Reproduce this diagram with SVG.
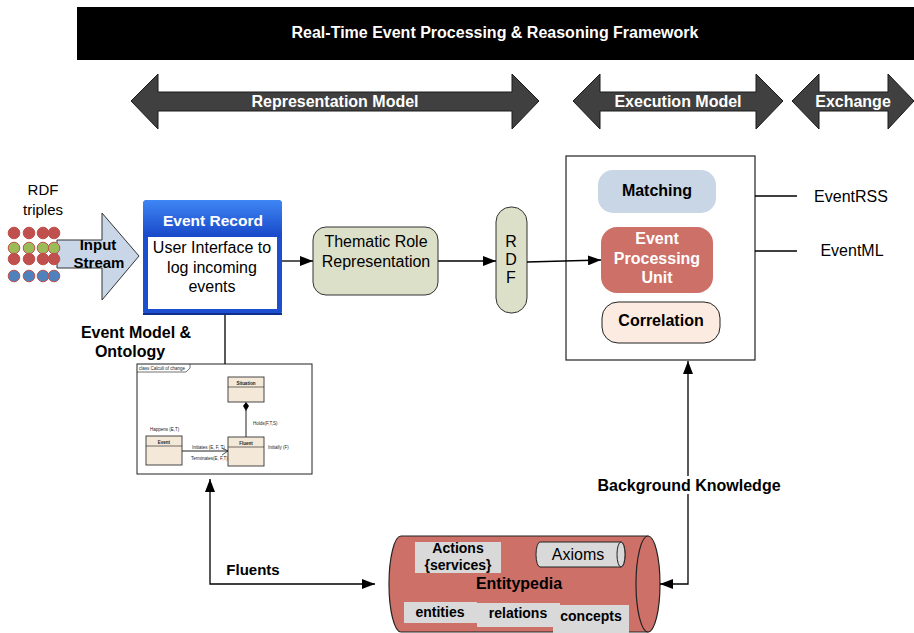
<svg xmlns="http://www.w3.org/2000/svg" width="914" height="633" viewBox="0 0 914 633">
<style>
text{font-family:"Liberation Sans",Arial,sans-serif;}
.b{font-weight:bold;}
.w{fill:#fff;}
.c{text-anchor:middle;}
.band{fill:#404040;stroke:#1a1a1a;stroke-width:1;}
.ln{fill:none;stroke:#000;stroke-width:1.3;}
.tiny{font-size:4.5px;fill:#222;}
.uml{fill:#f4e9d8;stroke:#333;stroke-width:0.9;}
.gb{fill:#d9d9d9;}
</style>
<defs>
<marker id="ah" markerUnits="userSpaceOnUse" markerWidth="13" markerHeight="10" refX="13" refY="5" orient="auto-start-reverse">
<path d="M0,0 L13,5 L0,10 z" fill="#000"/>
</marker>
<linearGradient id="hdr" x1="0" y1="0" x2="0" y2="1">
<stop offset="0" stop-color="#3f86f5"/>
<stop offset="1" stop-color="#1848c8"/>
</linearGradient>
</defs>

<g id="banner">
<rect x="77" y="7" width="840" height="53" fill="#000"/>
<text x="495" y="38" class="b w c" font-size="16">Real-Time Event Processing &amp; Reasoning Framework</text>
</g>

<g id="representation-model">
<polygon class="band" points="131,101 158,74 158,92 512,92 512,74 539,101 512,129 512,111 158,111 158,129"/>
<text x="335" y="107" class="b w c" font-size="16">Representation Model</text>
</g>
<g id="execution-model">
<polygon class="band" points="573,101 600,74 600,92 756,92 756,74 783,101 756,129 756,111 600,111 600,129"/>
<text x="678" y="107" class="b w c" font-size="16">Execution Model</text>
</g>
<g id="exchange">
<polygon class="band" points="792,101 819,74 819,92 888,92 888,74 914,101 888,129 888,111 819,111 819,129"/>
<text x="853" y="107" class="b w c" font-size="16">Exchange</text>
</g>

<g id="rdf-triples">
<text x="43" y="195" class="c" font-size="15">RDF</text>
<text x="43" y="215" class="c" font-size="15">triples</text>
</g>

<g id="input-stream">
<polygon points="57,240 102,240 102,213 139,256 102,300 102,268 57,268" fill="#c8d6e8" stroke="#333" stroke-width="1"/>
<g stroke="#c0504d" stroke-width="1">
<circle cx="14" cy="233" r="5.8" fill="#c0504d"/><circle cx="29" cy="233" r="5.8" fill="#c0504d"/><circle cx="43" cy="233" r="5.8" fill="#c0504d"/><circle cx="54" cy="233" r="5.8" fill="#c0504d"/>
<circle cx="14" cy="248" r="5.8" fill="#9bbb59"/><circle cx="29" cy="248" r="5.8" fill="#9bbb59"/><circle cx="43" cy="248" r="5.8" fill="#9bbb59"/><circle cx="54" cy="248" r="5.8" fill="#9bbb59"/>
<circle cx="14" cy="259" r="5.8" fill="#c0504d"/><circle cx="29" cy="259" r="5.8" fill="#c0504d"/><circle cx="43" cy="259" r="5.8" fill="#c0504d"/><circle cx="54" cy="259" r="5.8" fill="#c0504d"/>
<circle cx="14" cy="276" r="5.8" fill="#4f81bd"/><circle cx="29" cy="276" r="5.8" fill="#4f81bd"/><circle cx="43" cy="276" r="5.8" fill="#4f81bd"/><circle cx="54" cy="276" r="5.8" fill="#4f81bd"/>
</g>
<text x="98" y="250" class="b c" font-size="15">Input</text>
<text x="99" y="268" class="b c" font-size="15">Stream</text>
</g>

<g id="event-record">
<rect x="143" y="200" width="139" height="115" rx="4" fill="#1c4fd0"/>
<rect x="143" y="200" width="139" height="37" rx="4" fill="url(#hdr)"/>
<rect x="148" y="237" width="129" height="72" fill="#fff"/>
<line x1="143" y1="314" x2="282" y2="314" stroke="#0d2f8a" stroke-width="2"/>
<text x="213" y="226" class="b w c" font-size="15.5">Event Record</text>
<text x="212" y="253" class="c" font-size="16">User Interface to</text>
<text x="212" y="273" class="c" font-size="16">log incoming</text>
<text x="212" y="292" class="c" font-size="16">events</text>
</g>

<g id="thematic-role">
<rect x="313" y="227" width="125" height="68" rx="13" fill="#dde0c9" stroke="#333" stroke-width="1"/>
<text x="376" y="247" class="c" font-size="16">Thematic Role</text>
<text x="376" y="267" class="c" font-size="16">Representation</text>
</g>

<g id="rdf">
<rect x="496" y="207" width="31" height="106" rx="15" fill="#dde0c9" stroke="#333" stroke-width="1"/>
<text x="511" y="247" class="c" font-size="16">R</text>
<text x="511" y="265" class="c" font-size="16">D</text>
<text x="511" y="283" class="c" font-size="16">F</text>
</g>

<g id="execution-box">
<rect x="566" y="156" width="189" height="204" fill="#fff" stroke="#222" stroke-width="1.2"/>
</g>
<g id="matching">
<rect x="598" y="170" width="118" height="43" rx="15" fill="#c9d6e6"/>
<text x="657" y="196" class="b c" font-size="16">Matching</text>
</g>
<g id="event-processing-unit">
<rect x="601" y="227" width="112" height="66" rx="16" fill="#cd7068"/>
<text x="657" y="244" class="b w c" font-size="16">Event</text>
<text x="657" y="264" class="b w c" font-size="16">Processing</text>
<text x="657" y="283" class="b w c" font-size="16">Unit</text>
</g>
<g id="correlation">
<rect x="602" y="302" width="118" height="41" rx="16" fill="#fcebe0" stroke="#222" stroke-width="1"/>
<text x="661" y="326" class="b c" font-size="16">Correlation</text>
</g>

<g id="eventrss">
<text x="851" y="202" class="c" font-size="16">EventRSS</text>
</g>
<g id="eventml">
<text x="852" y="256" class="c" font-size="16">EventML</text>
</g>

<g id="event-model-ontology">
<text x="136" y="338" class="b c" font-size="16">Event Model &amp;</text>
<text x="130" y="357" class="b c" font-size="16">Ontology</text>
<rect x="137" y="364" width="175" height="110" fill="#fff" stroke="#222" stroke-width="1"/>
<path d="M137,372 H186 L190,368 V364" fill="none" stroke="#333" stroke-width="0.7"/>
<text x="139" y="370" class="tiny" font-size="4px">class Calculi of change</text>
<rect class="uml" x="228" y="377" width="36" height="25"/>
<line x1="228" y1="387" x2="264" y2="387" stroke="#333" stroke-width="0.7"/>
<text x="246" y="385" class="tiny b c">Situation</text>
<rect class="uml" x="228" y="437" width="36" height="29"/>
<line x1="228" y1="447" x2="264" y2="447" stroke="#333" stroke-width="0.7"/>
<text x="246" y="445" class="tiny b c">Fluent</text>
<rect class="uml" x="146" y="436" width="36" height="29"/>
<line x1="146" y1="446" x2="182" y2="446" stroke="#333" stroke-width="0.7"/>
<text x="164" y="444" class="tiny b c">Event</text>
<line x1="246" y1="410" x2="246" y2="437" stroke="#222" stroke-width="1"/>
<polygon points="246,402 249,406 246,411 243,406" fill="#000"/>
<text x="253" y="425" class="tiny">Holds(F,T,S)</text>
<text x="150" y="431" class="tiny">Happens (E,T)</text>
<text x="268" y="449" class="tiny">Initially (F)</text>
<line x1="182" y1="451" x2="228" y2="451" stroke="#222" stroke-width="1"/>
<path d="M222,448 L228,451 L222,455" fill="none" stroke="#222" stroke-width="0.8"/>
<text x="192" y="449" class="tiny">Initiates (E, F, T)</text>
<text x="191" y="460" class="tiny">Terminates(E, F,T)</text>
</g>

<g id="entitypedia">
<path d="M401,536 H648 V632 H401 A12,48 0 0 1 401,536 Z" fill="#cd7068" stroke="#222" stroke-width="1.2"/>
<ellipse cx="648" cy="584" rx="12" ry="48" fill="#cd7068" stroke="#222" stroke-width="1.2"/>
<rect class="gb" x="415" y="542" width="86" height="31"/>
<text x="458" y="553" class="b c" font-size="14">Actions</text>
<text x="458" y="570" class="b c" font-size="14">{services}</text>
<path d="M540,542 H621 A4,12.5 0 0 1 621,567 H540 A4,12.5 0 0 1 540,542 Z" fill="#d9d9d9" stroke="#222" stroke-width="1"/>
<ellipse cx="621" cy="554.5" rx="4" ry="12.5" fill="#d9d9d9" stroke="#222" stroke-width="1"/>
<text x="578" y="560" class="c" font-size="16">Axioms</text>
<text x="519" y="589" class="b c" font-size="16">Entitypedia</text>
<rect class="gb" x="404" y="602" width="73" height="21"/>
<rect class="gb" x="477" y="603" width="83" height="24"/>
<rect class="gb" x="553" y="605" width="76" height="28"/>
<text x="440" y="617" class="b c" font-size="14">entities</text>
<text x="518" y="618" class="b c" font-size="14">relations</text>
<text x="591" y="621" class="b c" font-size="14">concepts</text>
</g>

<g id="connectors">
<path class="ln" d="M282,261 H313" marker-end="url(#ah)"/>
<path class="ln" d="M438,261 H496" marker-end="url(#ah)"/>
<path class="ln" d="M527,262 L601,260" marker-end="url(#ah)"/>
<path class="ln" d="M755,196 H797"/>
<path class="ln" d="M755,251 H797"/>
<path class="ln" d="M225,315 V364"/>
<path class="ln" d="M210,479 V584 H375" marker-start="url(#ah)" marker-end="url(#ah)"/>
<path class="ln" d="M660,584 H688 V361" marker-start="url(#ah)" marker-end="url(#ah)"/>
<rect x="594" y="476" width="190" height="18" fill="#fff"/>
<text x="689" y="491" class="b c" font-size="16">Background Knowledge</text>
<text x="253" y="575" class="b c" font-size="15">Fluents</text>
</g>
</svg>
